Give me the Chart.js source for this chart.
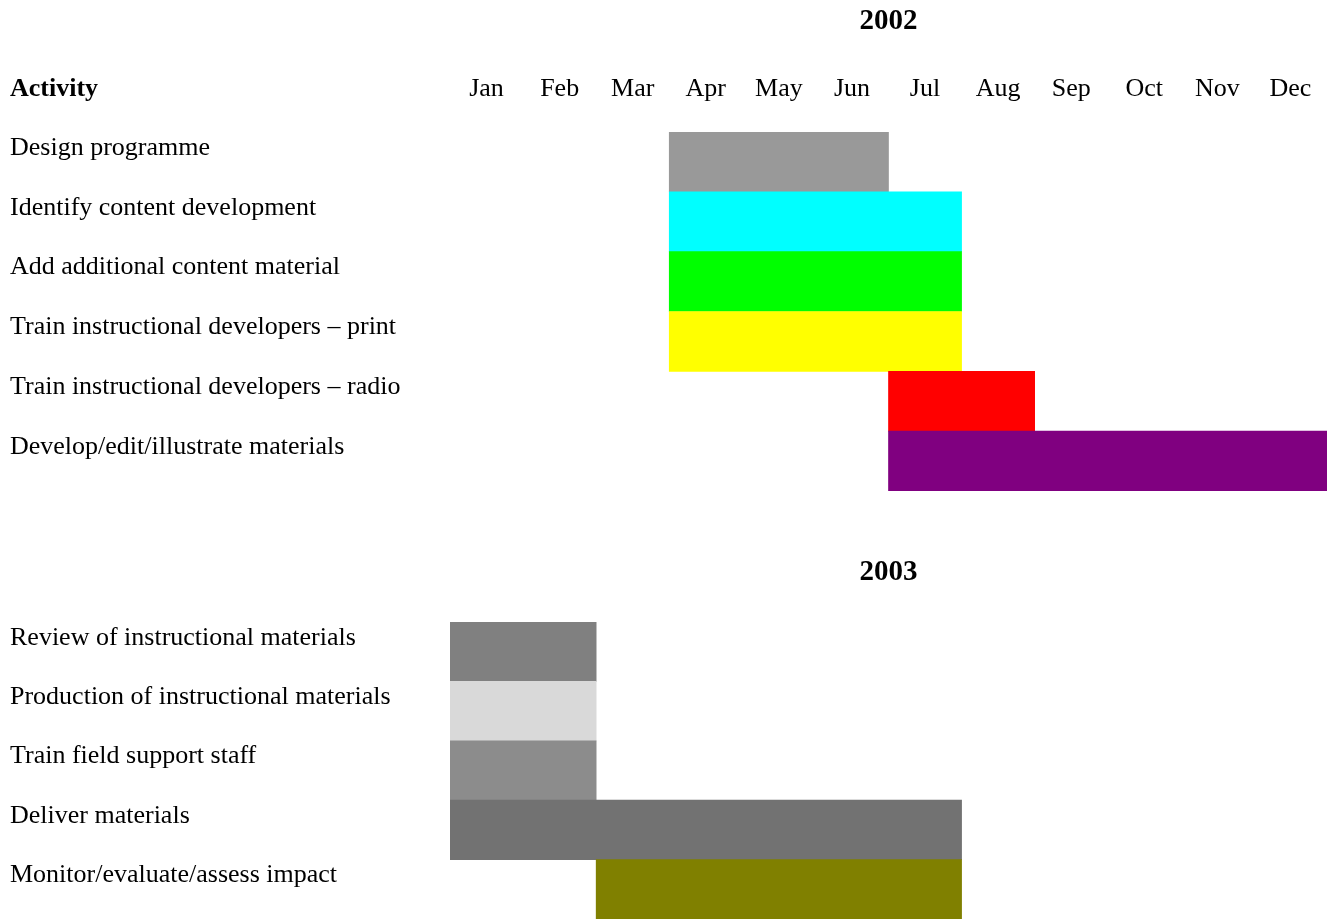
<!DOCTYPE html>
<html lang="en">
<head>
    <meta charset="UTF-8">
    <title>Work plan 2002 - 2003</title>
    <script src="https://cdn.jsdelivr.net/npm/chart.js"></script>
    <style>
        body { margin: 0; background: #fff; }
        .bloco { position: absolute; left: 0; width: 1330px; }
        #bloco2002 { top: 0; height: 491px; }
        #bloco2003 { top: 540px; height: 379px; }
    </style>
</head>
<body>
    <div class="bloco" id="bloco2002"><canvas id="grafico2002"></canvas></div>
    <div class="bloco" id="bloco2003"><canvas id="grafico2003"></canvas></div>

<script>
// months of the year (column headers)
var months = ['Jan', 'Feb', 'Mar', 'Apr', 'May', 'Jun', 'Jul', 'Aug', 'Sep', 'Oct', 'Nov', 'Dec'];

// 2002 activities, start/end as month index (0 = start of Jan, 12 = end of Dec)
var activities2002 = [
    'Design programme',
    'Identify content development',
    'Add additional content material',
    'Train instructional developers \u2013 print',
    'Train instructional developers \u2013 radio',
    'Develop/edit/illustrate materials'
];
var start2002 = [3, 3, 3, 3, 6, 6];
var end2002 = [6, 7, 7, 7, 8, 12];

// 2003 activities
var activities2003 = [
    'Review of instructional materials',
    'Production of instructional materials',
    'Train field support staff',
    'Deliver materials',
    'Monitor/evaluate/assess impact'
];
var start2003 = [0, 0, 0, 0, 2];
var end2003 = [2, 2, 2, 7, 7];

// cores
var cores2002 = ['#999999', '#00ffff', '#00ff00', '#ffff00', '#ff0000', '#800080'];
var cores2003 = ['#808080', '#d9d9d9', '#8c8c8c', '#727272', '#808000'];

var fonte = '"Liberation Serif", "Times New Roman", serif';

function intervalos(inicio, fim) {
    var out = [];
    for (var i = 0; i < inicio.length; i++) {
        out.push([inicio[i], fim[i]]);
    }
    return out;
}

// nao deixa os rotulos empurrarem a area do grafico
function semPadding(scale) {
    scale.paddingLeft = 0;
    scale.paddingRight = 0;
    scale.paddingTop = 0;
    scale.paddingBottom = 0;
}

// writes the year over the month columns and the "Activity" header
var cabecalho = {
    id: 'cabecalho',
    afterDraw: function (chart, args, opts) {
        var ctx = chart.ctx;
        var area = chart.chartArea;
        ctx.save();
        ctx.fillStyle = '#000';
        ctx.textBaseline = 'middle';
        ctx.textAlign = 'center';
        ctx.font = 'bold 29px ' + fonte;
        ctx.fillText(opts.ano, (area.left + area.right) / 2, opts.anoY);
        if (opts.titulo) {
            ctx.textAlign = 'left';
            ctx.font = 'bold 26px ' + fonte;
            ctx.fillText(opts.titulo, 10, opts.tituloY);
        }
        ctx.restore();
    }
};

function montarGrafico(idCanvas, atividades, inicio, fim, cores, ano, comMeses) {
    var escalas = {
        x: {
            type: 'linear',
            min: 0,
            max: 12,
            display: false
        },
        y: {
            grid: { display: false },
            border: { display: false },
            ticks: {
                crossAlign: 'far',
                color: '#000',
                labelOffset: -14,
                font: { family: fonte, size: 26 }
            },
            afterFit: function (scale) {
                scale.width = 440;
                semPadding(scale);
            }
        }
    };

    if (comMeses) {
        escalas.meses = {
            type: 'category',
            position: 'top',
            labels: months,
            offset: true,
            grid: { display: false, drawTicks: false },
            border: { display: false },
            ticks: {
                color: '#000',
                padding: 27,
                maxRotation: 0,
                autoSkip: false,
                font: { family: fonte, size: 26 }
            },
            afterFit: function (scale) {
                scale.height = 82;
                semPadding(scale);
            }
        };
    }

    return new Chart(document.getElementById(idCanvas), {
        type: 'bar',
        data: {
            labels: atividades,
            datasets: [{
                data: intervalos(inicio, fim),
                backgroundColor: cores,
                borderWidth: 0,
                barPercentage: 1,
                categoryPercentage: 1,
                xAxisID: 'x'
            }]
        },
        options: {
            indexAxis: 'y',
            responsive: true,
            maintainAspectRatio: false,
            animation: false,
            layout: {
                padding: { left: 10, right: 3, top: comMeses ? 50 : 82, bottom: 0 }
            },
            scales: escalas,
            plugins: {
                legend: { display: false },
                tooltip: { enabled: false },
                cabecalho: {
                    ano: ano,
                    anoY: comMeses ? 22 : 33,
                    titulo: comMeses ? 'Activity' : null,
                    tituloY: 89
                }
            }
        },
        plugins: [cabecalho]
    });
}

montarGrafico('grafico2002', activities2002, start2002, end2002, cores2002, '2002', true);
montarGrafico('grafico2003', activities2003, start2003, end2003, cores2003, '2003', false);
</script>
</body>
</html>
